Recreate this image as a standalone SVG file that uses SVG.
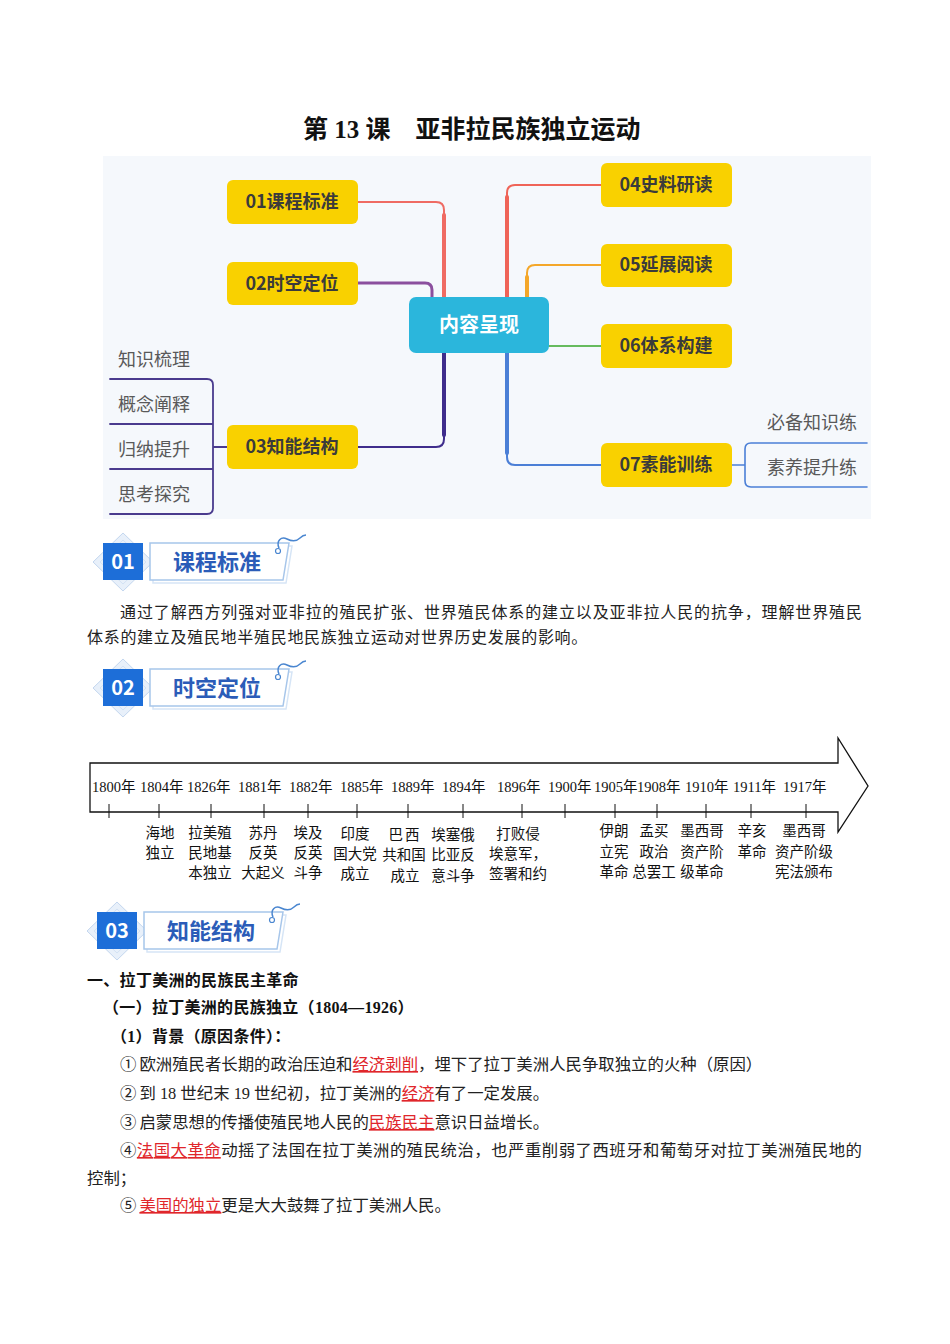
<svg xmlns="http://www.w3.org/2000/svg" width="950" height="1344" viewBox="0 0 950 1344">
<style>
.cjk{font-family:'Noto Sans CJK SC',sans-serif}
.ser{font-family:'Liberation Serif','Noto Sans CJK SC',serif}
.node rect{fill:#f9d100}
.node text{font-family:'Noto Sans CJK SC',sans-serif;font-weight:bold;font-size:18px;fill:#3b3b3b;text-anchor:middle}
.leaf{font-family:'Noto Sans CJK SC',sans-serif;font-size:18px;fill:#595959}
.br{fill:none;stroke-linecap:round;stroke-linejoin:round}
.hdrt{font-family:'Noto Sans CJK SC',sans-serif;font-weight:bold;font-size:22px;fill:#2b5cb8;text-anchor:middle}
.hdrn{font-family:'Noto Sans CJK SC',sans-serif;font-weight:bold;font-size:20px;fill:#ffffff;text-anchor:middle}
.yr{font-family:'Liberation Serif','Noto Sans CJK SC',serif;font-size:14.5px;fill:#111}
.ev{font-family:'Noto Sans CJK SC',sans-serif;font-size:14.5px;fill:#111;text-anchor:middle}
.body{font-family:'Liberation Serif','Noto Sans CJK SC',serif;font-size:16px;fill:#222}
.b2{font-size:16.4px}
.bold{font-family:'Liberation Serif','Noto Sans CJK SC',serif;font-size:16px;font-weight:bold;fill:#111;letter-spacing:0.3px}
.red{fill:#e0262b;text-decoration:underline}
.cn{font-family:'Noto Sans CJK SC',sans-serif}
.tick{stroke:#111;stroke-width:1}
</style>
<defs>
<g id="hdr">
<polygon points="123,533 153,562 123,591 93,562" fill="#e8f0fa" stroke="#c4d7ef" stroke-width="1"/>
<polygon points="123,540 146,562 123,584 100,562" fill="none" stroke="#d3e2f4" stroke-width="1"/>
<rect x="103" y="543" width="40" height="37" fill="#1d6ed8"/>
<path d="M153,546 H292 L286,583 H153 Z" fill="none" stroke="#d6e5f6" stroke-width="1.5"/>
<path d="M150,543 H289 L283,580 H150 Z" fill="#ffffff" stroke="#a7c6ea" stroke-width="1.5"/>
<circle cx="278" cy="551" r="2.5" fill="none" stroke="#4a86d0" stroke-width="1.2"/>
<path d="M279,548 C276,541 281,536 287,539 C293,542 297,541 300,538 C302,536 304,535 306,535" fill="none" stroke="#4a86d0" stroke-width="1.5"/>
</g>
</defs>

<g id="title">
<text x="303" y="138" class="ser" font-size="25" font-weight="bold" fill="#111">第 13 课　亚非拉民族独立运动</text>
</g>

<g id="mindmap">
<rect x="103" y="156" width="768" height="363" fill="#f5f8fc"/>
<g id="connectors">
<path class="br" d="M357,202 H436 Q444,202 444,210 V300" stroke="#ef6b63" stroke-width="2"/>
<path class="br" d="M444,215 V300" stroke="#ef6b63" stroke-width="4"/>
<path class="br" d="M357,283 H425 Q432,283 432,290 V300" stroke="#8b4f9e" stroke-width="3"/>
<path class="br" d="M444,350 V439 Q444,447 436,447 H357" stroke="#3f2d8c" stroke-width="2"/>
<path class="br" d="M444,350 V435" stroke="#3f2d8c" stroke-width="4"/>
<path class="br" d="M507,300 V193 Q507,185 515,185 H601" stroke="#ef6458" stroke-width="2"/>
<path class="br" d="M507,300 V197" stroke="#ef6458" stroke-width="4"/>
<path class="br" d="M527,300 V273 Q527,265 535,265 H601" stroke="#f4a72a" stroke-width="2"/>
<path class="br" d="M527,300 V277" stroke="#f4a72a" stroke-width="4"/>
<path class="br" d="M549,346 H601" stroke="#66bb5e" stroke-width="2"/>
<path class="br" d="M507,350 V457 Q507,465 515,465 H601" stroke="#4b7fd6" stroke-width="2"/>
<path class="br" d="M507,350 V453" stroke="#4b7fd6" stroke-width="4"/>
<path class="br" d="M110,379 H207 Q213,379 213,385 V508 Q213,514 207,514 H110 M110,424 H213 M110,469 H213 M213,447 H227" stroke="#4a3b8e" stroke-width="1.8"/>
<path class="br" d="M867,443 H751 Q745,443 745,449 V481 Q745,487 751,487 H867 M732,465 H745" stroke="#4b7fd6" stroke-width="1.6"/>
</g>
<g id="center" class="node">
<rect x="409" y="297" width="140" height="56" rx="7" style="fill:#2bb6dc"/>
<text x="479" y="332" style="fill:#ffffff;font-size:20px">内容呈现</text>
</g>
<g id="n01" class="node"><rect x="227" y="180" width="131" height="44" rx="6"/><text x="292" y="208">01课程标准</text></g>
<g id="n02" class="node"><rect x="227" y="262" width="131" height="43" rx="6"/><text x="292" y="290">02时空定位</text></g>
<g id="n03" class="node"><rect x="227" y="425" width="131" height="44" rx="6"/><text x="292" y="453">03知能结构</text></g>
<g id="n04" class="node"><rect x="601" y="163" width="131" height="44" rx="6"/><text x="666" y="191">04史料研读</text></g>
<g id="n05" class="node"><rect x="601" y="244" width="131" height="43" rx="6"/><text x="666" y="271">05延展阅读</text></g>
<g id="n06" class="node"><rect x="601" y="324" width="131" height="44" rx="6"/><text x="666" y="352">06体系构建</text></g>
<g id="n07" class="node"><rect x="601" y="443" width="131" height="44" rx="6"/><text x="666" y="471">07素能训练</text></g>
<g id="leaf1"><text class="leaf" x="118" y="366">知识梳理</text></g>
<g id="leaf2"><text class="leaf" x="118" y="411">概念阐释</text></g>
<g id="leaf3"><text class="leaf" x="118" y="456">归纳提升</text></g>
<g id="leaf4"><text class="leaf" x="118" y="501">思考探究</text></g>
<g id="leaf5"><text class="leaf" x="767" y="429">必备知识练</text></g>
<g id="leaf6"><text class="leaf" x="767" y="474">素养提升练</text></g>
</g>

<g id="h01">
<use href="#hdr"/>
<text class="hdrn" x="123" y="569">01</text>
<text class="hdrt" x="217" y="570">课程标准</text>
</g>
<g id="p01">
<text class="body" x="120" y="618" textLength="742" lengthAdjust="spacing">通过了解西方列强对亚非拉的殖民扩张、世界殖民体系的建立以及亚非拉人民的抗争，理解世界殖民</text>
<text class="body" x="87" y="643" letter-spacing="0.7">体系的建立及殖民地半殖民地民族独立运动对世界历史发展的影响。</text>
</g>

<g id="h02" transform="translate(0,126)">
<use href="#hdr"/>
<text class="hdrn" x="123" y="569">02</text>
<text class="hdrt" x="217" y="570">时空定位</text>
</g>

<g id="timeline">
<polygon points="90,763 838,763 838,738 868,786 838,832 838,812 90,812" fill="#ffffff" stroke="#111" stroke-width="1.3"/>
<g class="yr">
<text x="92" y="792">1800年</text>
<text x="140" y="792">1804年</text>
<text x="187" y="792">1826年</text>
<text x="238" y="792">1881年</text>
<text x="289" y="792">1882年</text>
<text x="340" y="792">1885年</text>
<text x="391" y="792">1889年</text>
<text x="442" y="792">1894年</text>
<text x="497" y="792">1896年</text>
<text x="548" y="792">1900年</text>
<text x="594" y="792">1905年</text>
<text x="637" y="792">1908年</text>
<text x="685" y="792">1910年</text>
<text x="733" y="792">1911年</text>
<text x="783" y="792">1917年</text>
</g>
<path class="tick" d="M109,804 V818 M159,804 V818 M211,804 V818 M264,804 V818 M308,804 V818 M357,804 V818 M408,804 V818 M463,804 V818 M522,804 V818 M565,804 V818 M615,804 V818 M657,804 V818 M706,804 V818 M751,804 V818 M806,804 V818"/>
<g class="ev">
<text x="160" y="838">海地</text><text x="160" y="858">独立</text>
<text x="210" y="838">拉美殖</text><text x="210" y="858">民地基</text><text x="210" y="878">本独立</text>
<text x="263" y="838">苏丹</text><text x="263" y="858">反英</text><text x="263" y="878">大起义</text>
<text x="308" y="838">埃及</text><text x="308" y="858">反英</text><text x="308" y="878">斗争</text>
<text x="355" y="839">印度</text><text x="355" y="859">国大党</text><text x="355" y="879">成立</text>
<text x="405" y="840" letter-spacing="2">巴西</text><text x="404" y="860">共和国</text><text x="405" y="881">成立</text>
<text x="453" y="840">埃塞俄</text><text x="453" y="860">比亚反</text><text x="453" y="881">意斗争</text>
<text x="518" y="839">打败侵</text><text x="489" y="859" text-anchor="start">埃意军，</text><text x="489" y="879" text-anchor="start">签署和约</text>
<text x="614" y="836">伊朗</text><text x="614" y="857">立宪</text><text x="614" y="877">革命</text>
<text x="654" y="836">孟买</text><text x="654" y="857">政治</text><text x="654" y="877">总罢工</text>
<text x="702" y="836">墨西哥</text><text x="702" y="857">资产阶</text><text x="702" y="877">级革命</text>
<text x="752" y="836">辛亥</text><text x="752" y="857">革命</text>
<text x="804" y="836">墨西哥</text><text x="804" y="857">资产阶级</text><text x="804" y="877">宪法颁布</text>
</g>
</g>

<g id="h03" transform="translate(-6,369)">
<use href="#hdr"/>
<text class="hdrn" x="123" y="569">03</text>
<text class="hdrt" x="217" y="570">知能结构</text>
</g>

<g id="content">
<text class="bold" x="87" y="986" letter-spacing="0.6">一、拉丁美洲的民族民主革命</text>
<text class="bold" x="103" y="1013">（一）拉丁美洲的民族独立（1804—1926）</text>
<text class="bold" x="111" y="1042">（1）背景（原因条件）：</text>
<text class="body b2" x="120" y="1070"><tspan class="cn">①</tspan><tspan dx="3">欧洲殖民者长期的政治压迫和</tspan><tspan class="red">经济剥削</tspan>，埋下了拉丁美洲人民争取独立的火种（原因）</text>
<text class="body b2" x="120" y="1099"><tspan class="cn">②</tspan><tspan dx="3">到 18 世纪末 19 世纪初，拉丁美洲的</tspan><tspan class="red">经济</tspan>有了一定发展。</text>
<text class="body b2" x="120" y="1128"><tspan class="cn">③</tspan><tspan dx="3">启蒙思想的传播使殖民地人民的</tspan><tspan class="red">民族民主</tspan>意识日益增长。</text>
<text class="body b2" x="120" y="1156" textLength="742" lengthAdjust="spacing"><tspan class="cn">④</tspan><tspan class="red">法国大革命</tspan>动摇了法国在拉丁美洲的殖民统治，也严重削弱了西班牙和葡萄牙对拉丁美洲殖民地的</text>
<text class="body b2" x="87" y="1184">控制；</text>
<text class="body b2" x="120" y="1211"><tspan class="cn">⑤</tspan><tspan dx="3" class="red">美国的独立</tspan>更是大大鼓舞了拉丁美洲人民。</text>
</g>
</svg>
